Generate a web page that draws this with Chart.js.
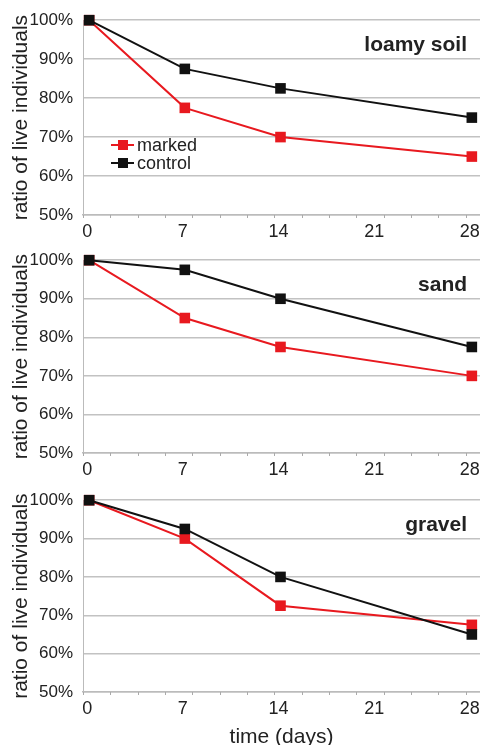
<!DOCTYPE html>
<html>
<head>
<meta charset="utf-8">
<script src="https://cdn.jsdelivr.net/npm/chart.js@4/dist/chart.umd.min.js"></script>
<style>
  html, body { margin: 0; padding: 0; background: #fff; overflow: hidden; width: 480px; height: 745px; }
  .panel { position: absolute; left: 0; }
  #legend { position: absolute; left: 111px; top: 136px; font: 18px Arial, "Liberation Sans", sans-serif; color: #222; line-height: 18px; }
  #legend .item { display: flex; align-items: center; height: 18px; }
  #legend .sym { position: relative; width: 23px; height: 18px; margin-right: 3px; }
  #legend .sym .ln { position: absolute; left: 0; right: 0; top: 8px; height: 2px; }
  #legend .sym .sq { position: absolute; left: 7px; top: 4px; width: 10px; height: 10px; }
</style>
</head>
<body>
<canvas id="c1" class="panel" style="top:0px" width="488" height="240"></canvas>
<canvas id="c2" class="panel" style="top:240px" width="488" height="240"></canvas>
<canvas id="c3" class="panel" style="top:480px" width="488" height="270"></canvas>
<div id="legend">
  <div class="item"><div class="sym"><div class="ln" style="background:#e8191f"></div><div class="sq" style="background:#e8191f"></div></div>marked</div>
  <div class="item"><div class="sym"><div class="ln" style="background:#111"></div><div class="sq" style="background:#111"></div></div>control</div>
</div>
<script>
// days of sampling and tick labels
const days = [0, 7, 14, 28];
const xTicks = [0, 7, 14, 21, 28];
const yTicks = [50, 60, 70, 80, 90, 100];

// ratio of live individuals (%)
const loamyMarked = [100, 77.5, 70, 65];
const loamyControl = [100, 87.5, 82.5, 75];
const sandMarked = [100, 85, 77.5, 70];
const sandControl = [100, 97.5, 90, 77.5];
const gravelMarked = [100, 90, 72.5, 67.5];
const gravelControl = [100, 92.5, 80, 65];

const RED = '#e8191f';
const BLACK = '#111111';
const GRID = '#c2c2c2';
const TXT = '#222222';
const FONT = "Arial, 'Liberation Sans', sans-serif";

// panel label (soil type) + small minor ticks under the x axis
const panelDeco = {
    id: 'panelDeco',
    afterDraw(chart, args, opts) {
        const { ctx, chartArea, scales } = chart;
        ctx.save();
        ctx.strokeStyle = '#aaa';
        ctx.lineWidth = 1;
        const xs = scales.x;
        for (let v = xs.min; v <= xs.max + 0.01; v += 2) {
            const px = Math.round(xs.getPixelForValue(v)) + 0.5;
            ctx.beginPath();
            ctx.moveTo(px, chartArea.bottom);
            ctx.lineTo(px, chartArea.bottom + 3);
            ctx.stroke();
        }
        ctx.fillStyle = TXT;
        ctx.font = `bold 21px ${FONT}`;
        ctx.textAlign = 'right';
        ctx.textBaseline = 'alphabetic';
        ctx.fillText(opts.name, chartArea.right - 13, chartArea.top + 31);
        ctx.restore();
    }
};

function makePanel(id, name, marked, control, topPad, axisH, xTitle) {
    const pts = arr => days.map((d, i) => ({ x: d, y: arr[i] }));
    const ds = (data, color) => ({
        data, borderColor: color, backgroundColor: color,
        borderWidth: 2, pointStyle: 'rect', pointRadius: 7.5, pointBorderWidth: 0,
        pointHoverRadius: 7.5, tension: 0, clip: false
    });
    return new Chart(document.getElementById(id), {
        type: 'line',
        data: { datasets: [ds(pts(control), BLACK), ds(pts(marked), RED)] },
        options: {
            responsive: false, animation: false, devicePixelRatio: 1,
            layout: { padding: { top: topPad, right: 0, left: 0, bottom: 0 } },
            plugins: { legend: { display: false }, tooltip: { enabled: false }, panelDeco: { name } },
            scales: {
                x: {
                    type: 'linear', min: -0.45, max: 28.6,
                    afterBuildTicks: s => { s.ticks = xTicks.map(v => ({ value: v })); },
                    afterFit: s => { s.height = axisH; },
                    grid: { drawOnChartArea: false, drawTicks: false },
                    border: { display: true, color: '#bbb', width: 1.5 },
                    ticks: { color: TXT, font: { family: FONT, size: 18 }, padding: 6, labelOffset: -2, maxRotation: 0 },
                    title: { display: !!xTitle, text: xTitle || '', color: TXT, font: { family: FONT, size: 21 }, padding: { top: 0, bottom: 0 } }
                },
                y: {
                    min: 50, max: 100,
                    afterBuildTicks: s => { s.ticks = yTicks.map(v => ({ value: v })); },
                    afterFit: s => { s.width = 83; },
                    grid: { color: GRID, lineWidth: 1.5, drawTicks: false },
                    border: { display: true, color: '#bbb', width: 1 },
                    ticks: { color: TXT, font: { family: FONT, size: 17 }, padding: 10, callback: v => v + '%' },
                    title: { display: true, text: 'ratio of live individuals', color: TXT, font: { family: FONT, size: 21 }, padding: { top: 9, bottom: 0 } }
                }
            }
        },
        plugins: [panelDeco]
    });
}

makePanel('c1', 'loamy soil', loamyMarked, loamyControl, 19, 25, null);
makePanel('c2', 'sand', sandMarked, sandControl, 18, 27, null);
makePanel('c3', 'gravel', gravelMarked, gravelControl, 18, 58, 'time (days)');
</script>
</body>
</html>
